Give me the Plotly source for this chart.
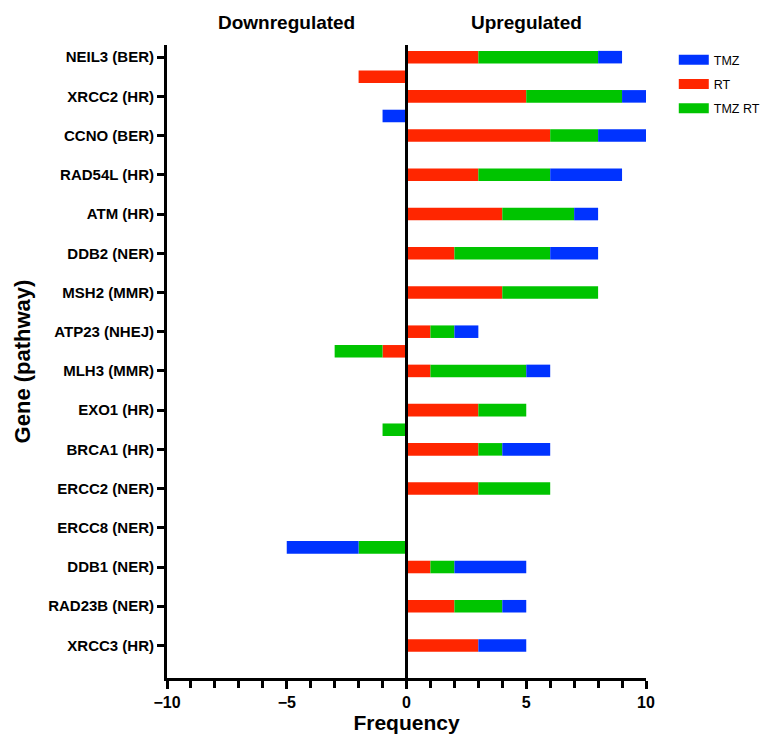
import plotly.graph_objects as go

genes = ["NEIL3 (BER)", "XRCC2 (HR)", "CCNO (BER)", "RAD54L (HR)", "ATM (HR)",
         "DDB2 (NER)", "MSH2 (MMR)", "ATP23 (NHEJ)", "MLH3 (MMR)", "EXO1 (HR)",
         "BRCA1 (HR)", "ERCC2 (NER)", "ERCC8 (NER)", "DDB1 (NER)", "RAD23B (NER)",
         "XRCC3 (HR)"]

# Upregulated frequencies
up_RT =    [3, 5, 6, 3, 4, 2, 4, 1, 1, 3, 3, 3, 0, 1, 2, 3]
up_TMZRT = [5, 4, 2, 3, 3, 4, 4, 1, 4, 2, 1, 3, 0, 1, 2, 0]
up_TMZ =   [1, 1, 2, 3, 1, 2, 0, 1, 1, 0, 2, 0, 0, 3, 1, 2]
# Downregulated frequencies
down_RT =    [0, -2, 0, 0, 0, 0, 0, 0, -1, 0, 0, 0, 0, 0, 0, 0]
down_TMZRT = [0, 0, 0, 0, 0, 0, 0, 0, -2, 0, -1, 0, 0, -2, 0, 0]
down_TMZ =   [0, 0, -1, 0, 0, 0, 0, 0, 0, 0, 0, 0, 0, -3, 0, 0]

x_ticks = [-10, -5, 0, 5, 10]
x_ticktext = ["−10", "−5", "0", "5", "10"]

colors = {"TMZ": "#0033FF", "RT": "#FF2600", "TMZ RT": "#00C400"}

pos_up = list(range(len(genes)))
pos_down = [p - 0.5 for p in pos_up]

fig = go.Figure()
series = [("RT", up_RT, down_RT), ("TMZ RT", up_TMZRT, down_TMZRT), ("TMZ", up_TMZ, down_TMZ)]
for name, up, down in series:
    fig.add_trace(go.Bar(
        x=up + down, y=pos_up + pos_down, orientation="h", name=name,
        marker=dict(color=colors[name], line=dict(width=0)),
        width=0.32, showlegend=False))

for rank, name in enumerate(["TMZ", "RT", "TMZ RT"]):
    fig.add_trace(go.Scatter(
        x=[None], y=[None], mode="lines", name=name,
        line=dict(color=colors[name], width=10),
        legendgroup=name, legendrank=rank + 1))

fig.update_layout(
    width=765, height=729,
    barmode="relative",
    plot_bgcolor="white", paper_bgcolor="white",
    margin=dict(l=159, r=127, t=37, b=59, autoexpand=False),
    font=dict(family="Arial, Liberation Sans, sans-serif", color="black"),
    legend=dict(x=1.058, y=1.0, xanchor="left", yanchor="top",
                font=dict(size=12.5), traceorder="grouped", tracegroupgap=5,
                bgcolor="rgba(0,0,0,0)"),
    xaxis=dict(range=[-10, 10], showline=True, linecolor="black", linewidth=3,
               ticks="outside", tickwidth=2.5, ticklen=8, tickcolor="black",
               tickvals=x_ticks, ticktext=["<b>%s</b>" % t for t in x_ticktext],
               minor=dict(dtick=1, ticks="outside", ticklen=7, tickwidth=2.5, tickcolor="black"),
               showgrid=False, zeroline=False, automargin=False,
               tickfont=dict(size=16),
               title=dict(text="<b>Frequency</b>", font=dict(size=21), standoff=5)),
    yaxis=dict(range=[15.83, -0.31], showline=True, linecolor="black", linewidth=3,
               ticks="outside", tickwidth=2.5, ticklen=7, tickcolor="black",
               tickvals=pos_up, ticktext=["<b>%s</b>" % g for g in genes],
               tickfont=dict(size=15), showgrid=False, zeroline=False, automargin=False,
               title=dict(text="<b>Gene (pathway)</b>", font=dict(size=22), standoff=12)),
    shapes=[dict(type="line", xref="x", yref="paper", x0=0, x1=0, y0=0, y1=1,
                 line=dict(color="black", width=3), layer="above")],
    annotations=[
        dict(text="<b>Downregulated</b>", x=-5, xref="x", y=1.036, yref="paper",
             showarrow=False, font=dict(size=19), yanchor="middle"),
        dict(text="<b>Upregulated</b>", x=5, xref="x", y=1.036, yref="paper",
             showarrow=False, font=dict(size=19), yanchor="middle"),
    ],
)

fig.write_html("out.html")
